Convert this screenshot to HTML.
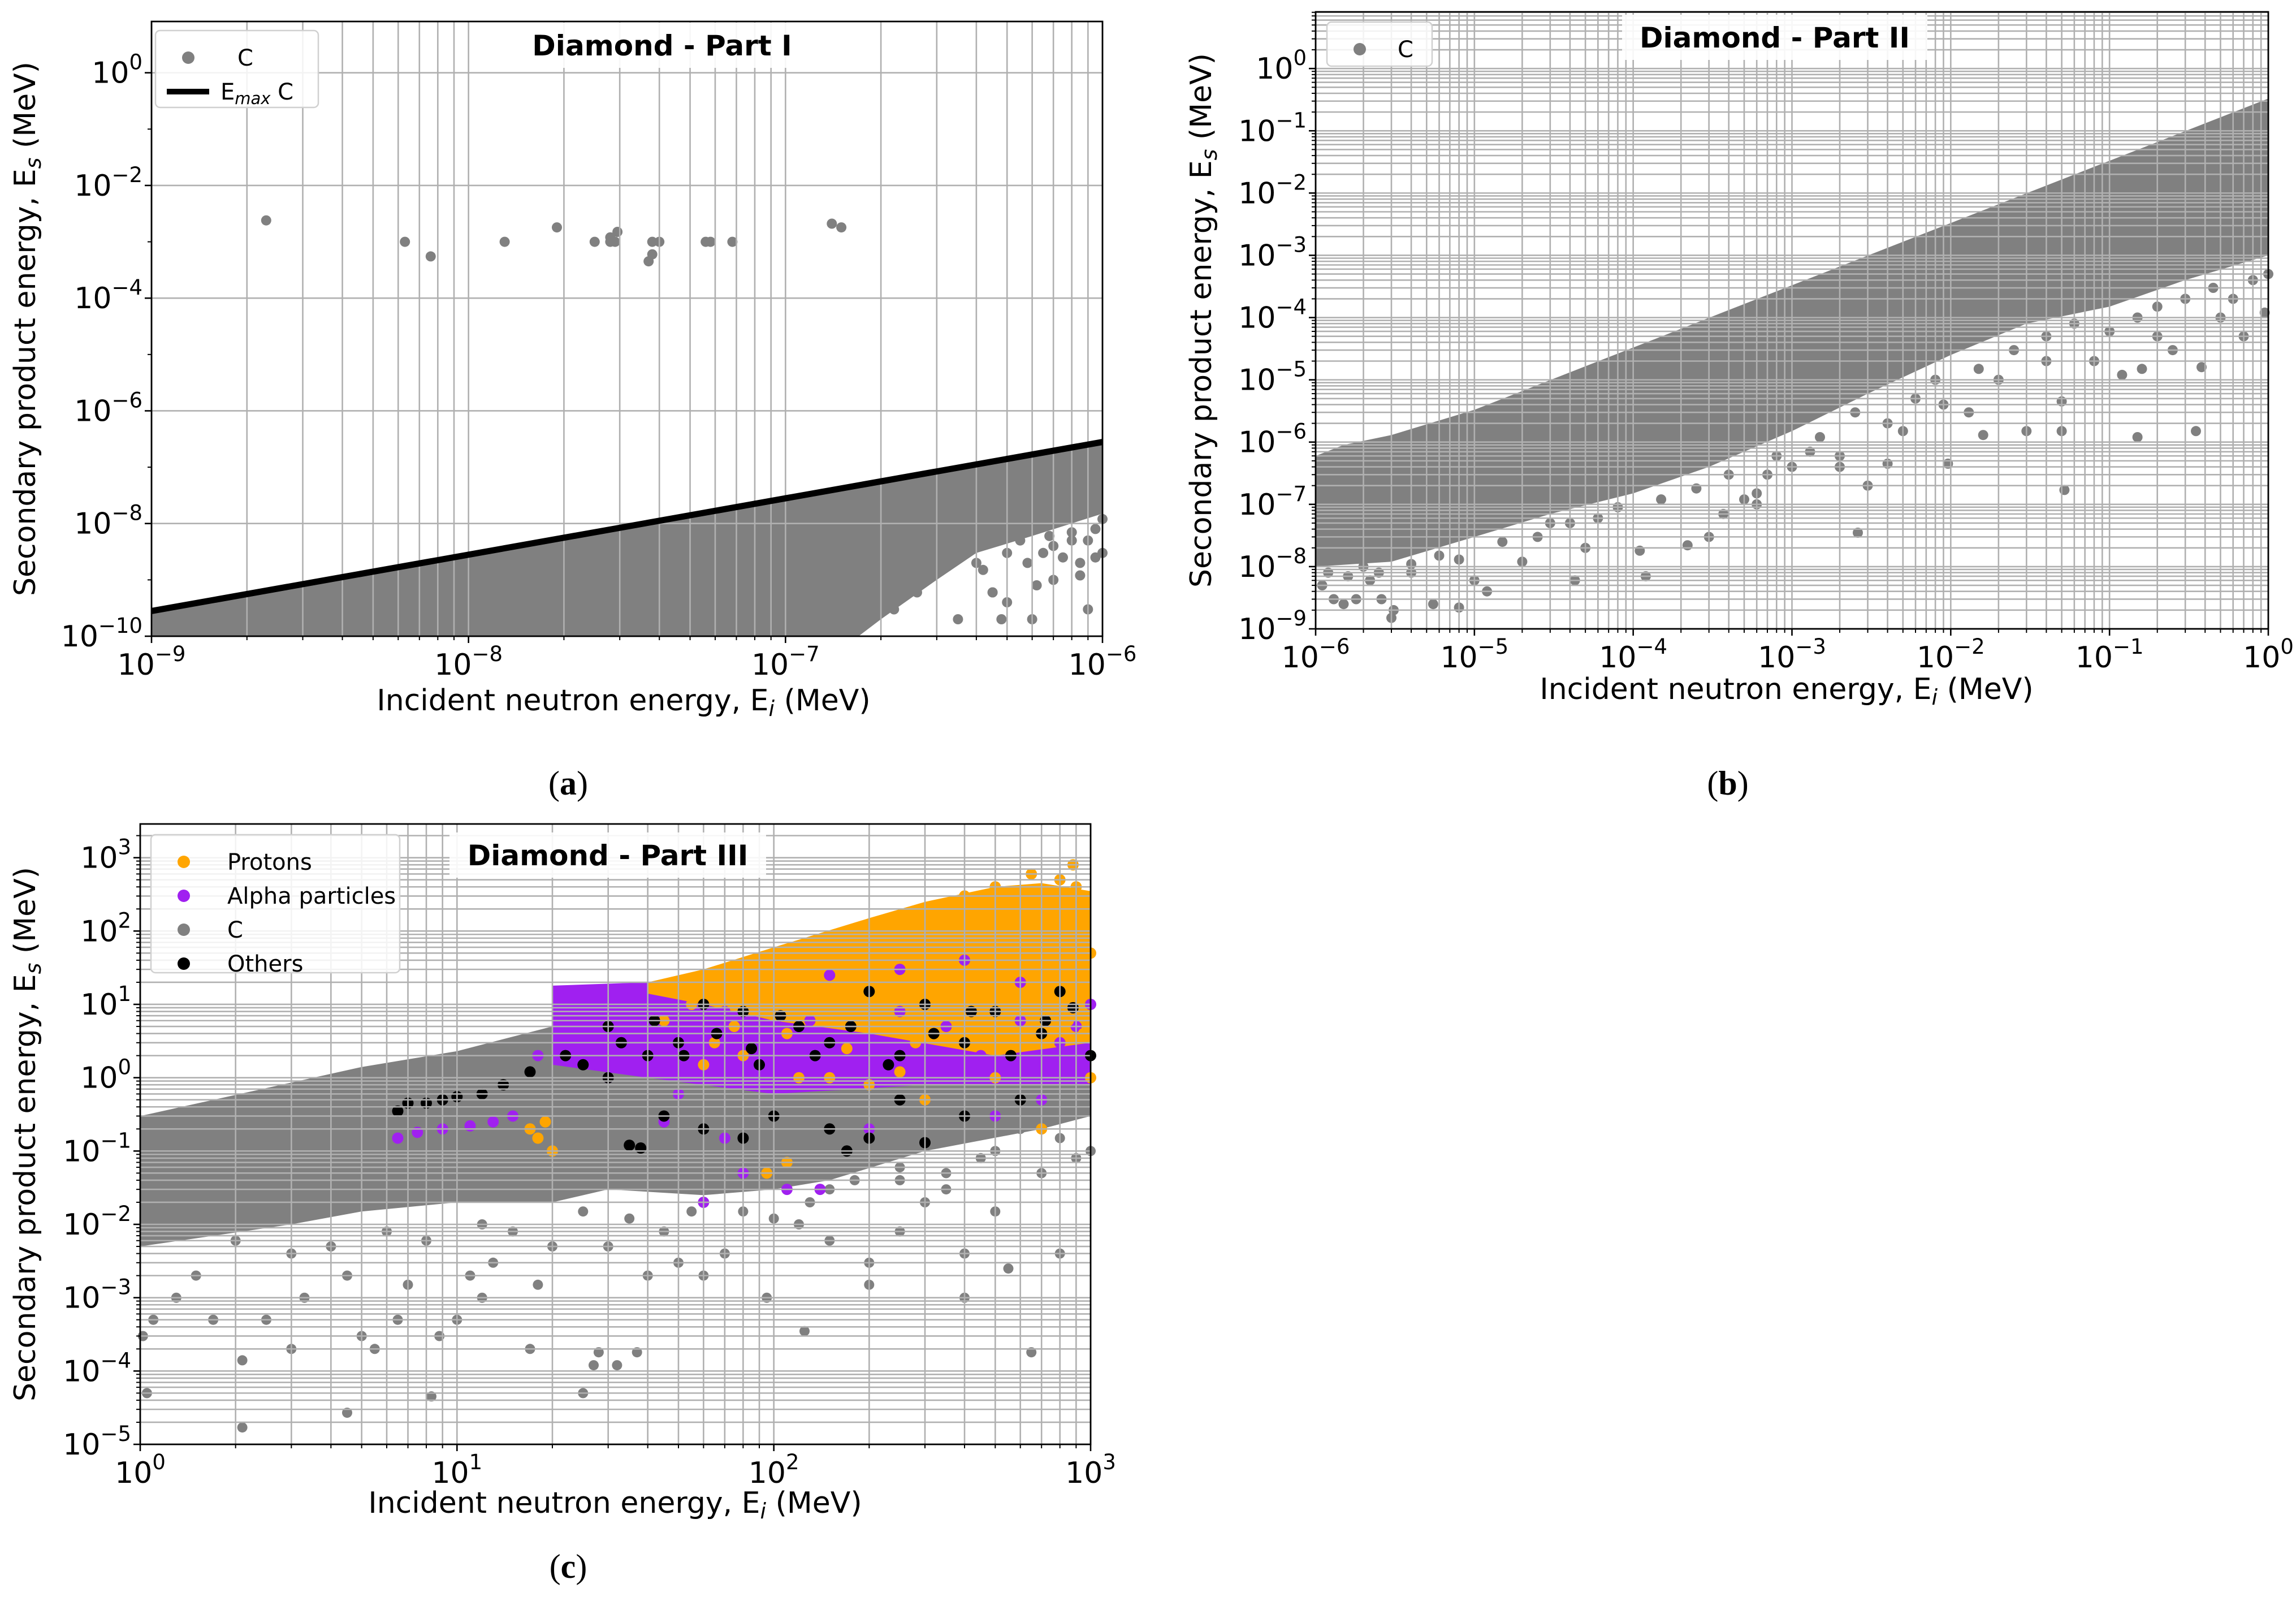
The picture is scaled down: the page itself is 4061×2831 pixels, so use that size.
<!DOCTYPE html>
<html><head><meta charset="utf-8"><style>
html,body{margin:0;padding:0;background:#fff;}
svg{display:block;font-family:"DejaVu Sans","Liberation Sans",sans-serif;}
</style></head><body>
<svg id="fig" width="4061" height="2831" viewBox="0 0 4061 2831" xmlns="http://www.w3.org/2000/svg">
<rect width="4061" height="2831" fill="#fff"/>
<g id="pa"></g>
<g id="pb"></g>
<g id="pc"></g>
<text x="1005" y="1405" font-family="Liberation Serif,serif" font-size="60" text-anchor="middle">(<tspan font-weight="bold">a</tspan>)</text>
<text x="3056" y="1405" font-family="Liberation Serif,serif" font-size="60" text-anchor="middle">(<tspan font-weight="bold">b</tspan>)</text>
<text x="1005" y="2790" font-family="Liberation Serif,serif" font-size="60" text-anchor="middle">(<tspan font-weight="bold">c</tspan>)</text>
</svg>
<script>
// ---------- Panel A data ----------
const aBandX = [1e-9, 1e-6, 1e-6, 6e-7, 4e-7, 3e-7, 2e-7, 1.7e-7, 1e-9];
const aBandY = [2.6e-10, 2.6e-7, 1.5e-8, 6e-9, 3e-9, 1e-9, 2e-10, 1e-10, 1e-10];
const aLineX = [1e-9, 1e-6];
const aLineY = [2.8e-10, 2.8e-7];
const aDotsX = [2.3e-9,6.3e-9,7.6e-9,1.3e-8,1.9e-8,2.5e-8,2.8e-8,2.8e-8,2.9e-8,2.95e-8,3.7e-8,3.8e-8,3.8e-8,4e-8,5.6e-8,5.8e-8,6.8e-8,1.4e-7,1.5e-7,
 3e-7,4e-7,5e-7,7e-7,8e-7,9e-7,6e-7,3.5e-7,2.5e-7,1e-6,9.5e-7,4.5e-7,6.5e-7,8.5e-7,2.2e-7,1.8e-7,
 2.2e-7,2.6e-7,3e-7,3.3e-7,3.8e-7,4.2e-7,4.5e-7,5e-7,5.5e-7,5.8e-7,6.2e-7,7e-7,7.5e-7,8e-7,8.5e-7,9e-7,9.5e-7,1e-6,6.8e-7,4.8e-7];
const aDotsY = [2.4e-3,1e-3,5.5e-4,1e-3,1.8e-3,1e-3,1.2e-3,1e-3,1e-3,1.5e-3,4.5e-4,6e-4,1e-3,1e-3,1e-3,1e-3,1e-3,2.1e-3,1.8e-3,
 5e-9,2e-9,4e-10,1e-9,5e-9,3e-10,2e-10,2e-10,1e-9,3e-9,8e-9,6e-10,3e-9,2e-9,5e-10,3e-10,
 3e-10,6e-10,1.5e-9,2.5e-9,4e-9,1.5e-9,6e-10,3e-9,5e-9,2e-9,8e-10,4e-9,2.5e-9,7e-9,1.2e-9,5e-9,2.5e-9,1.2e-8,6e-9,2e-10];
// ---------- Panel B data ----------
const bBandX = [1e-6,1.5e-6,3e-6,1e-5,1,1,0.3,0.1,3e-2,1e-2,3e-3,1e-3,3e-4,1e-4,3e-5,1e-5,3e-6,1e-6];
const bBandY = [6e-7,9e-7,1.3e-6,3.3e-6,0.33,1e-3,4e-4,1.5e-4,8e-5,2.5e-5,6e-6,1.5e-6,4e-7,1.5e-7,7e-8,3e-8,1.2e-8,1e-8];
const bDotsX = [1.1e-6,1.3e-6,1.5e-6,1.8e-6,2.2e-6,2.6e-6,3e-6,3.1e-6,4e-6,5.5e-6,8e-6,1e-5,1.2e-5,2e-5,3e-5,4.3e-5,1.1e-4,1.2e-4,2.2e-4,3e-4,3.7e-4,5e-4,6e-4,7e-4,1e-3,1.3e-3,2e-3,2.6e-3,3e-3,4e-3,5e-3,9.6e-3,1.3e-2,1.6e-2,2e-2,3e-2,5e-2,5.2e-2,0.05,0.08,0.12,0.15,0.16,0.2,0.25,0.35,0.38,0.5,0.7,0.95,
 1.2e-6,1.6e-6,2e-6,2.5e-6,4e-6,6e-6,8e-6,1.5e-5,2.5e-5,4e-5,6e-5,8e-5,1.5e-4,2.5e-4,4e-4,6e-4,8e-4,1.5e-3,2.5e-3,4e-3,6e-3,8e-3,1.5e-2,2.5e-2,4e-2,6e-2,0.1,0.15,0.2,0.3,0.45,0.6,0.8,1,0.04,0.009,2e-3,5e-5];
const bDotsY = [5e-9,3e-9,2.5e-9,3e-9,6e-9,3e-9,1.5e-9,2e-9,8e-9,2.5e-9,2.2e-9,6e-9,4e-9,1.2e-8,5e-8,6e-9,1.8e-8,7e-9,2.2e-8,3e-8,7e-8,1.2e-7,1.5e-7,3e-7,4e-7,7e-7,6e-7,3.5e-8,2e-7,4.5e-7,1.5e-6,4.5e-7,3e-6,1.3e-6,1e-5,1.5e-6,4.5e-6,1.7e-7,1.5e-6,2e-5,1.2e-5,1.2e-6,1.5e-5,5e-5,3e-5,1.5e-6,1.6e-5,1e-4,5e-5,1.2e-4,
 8e-9,7e-9,1e-8,8e-9,1.1e-8,1.5e-8,1.3e-8,2.5e-8,3e-8,5e-8,6e-8,9e-8,1.2e-7,1.8e-7,3e-7,1e-7,6e-7,1.2e-6,3e-6,2e-6,5e-6,1e-5,1.5e-5,3e-5,5e-5,8e-5,6e-5,1e-4,1.5e-4,2e-4,3e-4,2e-4,4e-4,5e-4,2e-5,4e-6,4e-7,2e-8];
// ---------- Panel C data ----------
const cGrayBandX = [1,5,10,20,1000,1000,700,300,150,100,60,30,20,10,5,3,1];
const cGrayBandY = [0.3,1.4,2.3,5,5,0.3,0.2,0.1,0.04,0.03,0.025,0.03,0.02,0.02,0.015,0.01,0.005];
const cPurpleBandX = [20,20,40,100,300,1000,1000,300,100,40,20];
const cPurpleBandY = [4,18,20,30,40,30,0.8,0.8,0.6,1,1.5];
const cOrangeBandX = [40,60,100,200,300,500,700,1000,1000,500,200,100,60,40];
const cOrangeBandY = [20,30,60,150,250,400,450,350,3,2,4,6,10,14];
const cGrayX = [1.02,1.05,1.1,1.3,1.5,1.7,2.1,2.1,2.5,3,3.3,4.5,4.5,5,5.5,6.5,7,8.3,8.8,10,11,12,13,17,18,20,25,27,28,30,32,37,40,50,60,70,95,125,150,200,200,250,300,400,400,500,550,650,700,800,900,1000,700,600,450,350,250,150,120,
 1.2,2,3,4,6,8,12,15,25,35,45,55,80,100,130,180,250,350,500,800];
const cGrayY = [3e-4,5e-5,5e-4,1e-3,2e-3,5e-4,1.4e-4,1.7e-5,5e-4,2e-4,1e-3,2.7e-5,2e-3,3e-4,2e-4,5e-4,1.5e-3,4.5e-5,3e-4,5e-4,2e-3,1e-3,3e-3,2e-4,1.5e-3,5e-3,5e-5,1.2e-4,1.8e-4,5e-3,1.2e-4,1.8e-4,2e-3,3e-3,2e-3,4e-3,1e-3,3.5e-4,6e-3,3e-3,1.5e-3,8e-3,2e-2,1e-3,4e-3,1.5e-2,2.5e-3,1.8e-4,5e-2,4e-3,8e-2,0.1,0.3,0.2,0.08,0.05,0.04,0.03,0.01,
 8e-3,6e-3,4e-3,5e-3,8e-3,6e-3,1e-2,8e-3,1.5e-2,1.2e-2,8e-3,1.5e-2,1.5e-2,1.2e-2,0.02,0.04,0.06,0.03,0.1,0.15];
const cPurpleX = [6.5,7.5,9,11,13,15,45,70,80,60,110,140,200,300,500,700,900,250,400,150,600,1000,30,18,100,50,
 25,30,35,45,55,70,90,130,180,250,350,450,600,800,950,22,28,40];
const cPurpleY = [0.15,0.18,0.2,0.22,0.25,0.3,0.25,0.15,0.05,0.02,0.03,0.03,0.2,0.5,0.3,0.5,5,30,40,25,20,10,1,2,0.7,0.6,
 8,4,12,5,3,8,4,6,3,8,5,2,6,3,2,12,15,2];
const cOrangeX = [17,18,19,20,95,110,150,200,300,700,800,880,950,650,500,400,900,1000,600,60,80,120,250,500,1000,
 45,55,65,75,90,110,140,170,220,280,380,480,650,850,950,120,180,300,450,700,900,350];
const cOrangeY = [0.2,0.15,0.25,0.1,0.05,0.07,1,0.8,0.5,0.2,500,800,200,600,400,300,100,50,150,1.5,2,1,1.2,1,1,
 6,10,3,5,12,4,8,2.5,5,3,8,4,3,6,4,30,60,100,150,250,400,80];
const cBlackX = [6.5,7,8,9,10,12,14,17,22,25,30,35,38,45,60,80,100,150,170,200,250,300,400,600,30,50,80,120,200,300,500,800,1000,60,150,400,700,40,90,250,
 33,42,52,66,85,105,135,175,230,320,420,560,720,880];
const cBlackY = [0.35,0.45,0.45,0.5,0.55,0.6,0.8,1.2,2,1.5,1,0.12,0.11,0.3,0.2,0.15,0.3,0.2,0.1,0.15,0.5,0.13,0.3,0.5,5,3,8,5,15,10,8,15,2,10,3,3,4,2,1.5,2,
 3,6,2,4,2.5,7,2,5,1.5,4,8,2,6,9];
// ---------- axes tick exponents ----------
const aXTicks = [-9,-8,-7,-6];
const aYTicks = [-10,-8,-6,-4,-2,0];
const bXTicks = [-6,-5,-4,-3,-2,-1,0];
const bYTicks = [-9,-8,-7,-6,-5,-4,-3,-2,-1,0];
const cXTicks = [0,1,2,3];
const cYTicks = [-5,-4,-3,-2,-1,0,1,2,3];

const NS = "http://www.w3.org/2000/svg";
function mk(tag, attrs, parent){ const e=document.createElementNS(NS,tag); for(const k in attrs) e.setAttribute(k,attrs[k]); parent.appendChild(e); return e; }

function makeAxes(cfg){
  const sx = v => cfg.x0 + (Math.log10(v)-cfg.xmin)/(cfg.xmax-cfg.xmin)*(cfg.x1-cfg.x0);
  const sy = v => cfg.y1 - (Math.log10(v)-cfg.ymin)/(cfg.ymax-cfg.ymin)*(cfg.y1-cfg.y0);
  return {sx, sy};
}
function drawPoly(g, ax, xs, ys, color, name){
  const pts = xs.map((x,i)=>ax.sx(x).toFixed(1)+","+ax.sy(ys[i]).toFixed(1)).join(" ");
  const p = mk("polygon",{points:pts, fill:color}, g);
  
  
}
function drawDots(g, ax, xs, ys, color, r, name){
  xs.forEach((x,i)=>{
    const c = mk("circle",{cx:ax.sx(x).toFixed(1), cy:ax.sy(ys[i]).toFixed(1), r:r, fill:color}, g);
    
    
  });
}
function drawGrid(g, cfg, ax, xMinor, yMinor, yStep){
  const gg = mk("g",{stroke:"#b0b0b0","stroke-width":2.6}, g);
  
  
  for(let e=cfg.xmin; e<=Math.ceil(cfg.xmax); e++){
    for(let m=1;m<=9;m++){
      if(m>1 && !xMinor) continue;
      const v=m*Math.pow(10,e); const lv=Math.log10(v);
      if(lv<cfg.xmin-1e-9||lv>cfg.xmax+1e-9) continue;
      const x=ax.sx(v); mk("line",{x1:x,x2:x,y1:cfg.y0,y2:cfg.y1},gg);
      mk("line",{x1:x,x2:x,y1:cfg.y1,y2:cfg.y1+(m==1?12:7),stroke:"#000","stroke-width":m==1?2.6:2},g);
    }
  }
  for(let e=Math.floor(cfg.ymin); e<=Math.ceil(cfg.ymax); e++){
    for(let m=1;m<=9;m++){
      if(m>1 && !yMinor) continue;
      const v=m*Math.pow(10,e); const lv=Math.log10(v);
      if(lv<cfg.ymin-1e-9||lv>cfg.ymax+1e-9) continue;
      const y=ax.sy(v);
      if(m==1 && ((e-cfg.ymin)%yStep)!=0){ mk("line",{x1:cfg.x0,x2:cfg.x0-7,y1:y,y2:y,stroke:"#000","stroke-width":2},g); continue; }
      mk("line",{x1:cfg.x0,x2:cfg.x1,y1:y,y2:y},gg);
      mk("line",{x1:cfg.x0,x2:cfg.x0-(m==1?12:7),y1:y,y2:y,stroke:"#000","stroke-width":m==1?2.6:2},g);
    }
  }
}
function tickLabel(g, x, y, e, anchor, name){
  const t = mk("text",{x:x,y:y,"font-size":52,"text-anchor":anchor,fill:"#000"},g);
  
  
  t.appendChild(document.createTextNode("10"));
  const s = mk("tspan",{"font-size":37,dy:-24},t);
  s.textContent = (e<0?"\u2212":"")+Math.abs(e);
}
function drawTicks(g, cfg, ax, xt, yt){
  xt.forEach(e=>tickLabel(g, ax.sx(Math.pow(10,e)), cfg.y1+68, e, "middle", "x-tick-label"));
  yt.forEach(e=>tickLabel(g, cfg.x0-16, ax.sy(Math.pow(10,e))+18, e, "end", "y-tick-label"));
}
function frame(g,cfg){
  const r = mk("rect",{x:cfg.x0,y:cfg.y0,width:cfg.x1-cfg.x0,height:cfg.y1-cfg.y0,fill:"none",stroke:"#000","stroke-width":2.8},g);
  
  
}
function labels(g,cfg,xlx,xly,ylx){
  const t=mk("text",{x:xlx,y:xly,"font-size":52,"text-anchor":"middle"},g);
  
  
  t.innerHTML='Incident neutron energy, E<tspan font-size="38" dy="10" font-style="italic">i</tspan><tspan dy="-10"> (MeV)</tspan>';
  const cy=(cfg.y0+cfg.y1)/2;
  const u=mk("text",{x:ylx,y:cy,"font-size":52,"text-anchor":"middle",transform:`rotate(-90 ${ylx} ${cy})`},g);
  
  
  u.innerHTML='Secondary product energy, E<tspan font-size="38" dy="10" font-style="italic">s</tspan><tspan dy="-10"> (MeV)</tspan>';
}
function title(g,cx,cy,txt,w){
  const b=mk("rect",{x:cx-w/2,y:cy-40,width:w,height:80,fill:"#fff",opacity:0.9},g);
  
  
  const t=mk("text",{x:cx,y:cy+18,"font-size":50,"font-weight":"bold","text-anchor":"middle"},g);
  
  
  t.textContent=txt;
}
function legend(g,x,y,w,h,items){
  const b=mk("rect",{x:x,y:y,width:w,height:h,rx:8,fill:"#fff","fill-opacity":0.85,stroke:"#d0d0d0","stroke-width":2.5},g);
  
  
  items.forEach((it,i)=>{
    const yy=y+48+i*60;
    if(it.line){ const l=mk("line",{x1:x+20,x2:x+95,y1:yy,y2:yy,stroke:"#000","stroke-width":10},g);   }
    else { const c=mk("circle",{cx:x+58,cy:yy,r:11,fill:it.c},g);   }
    const t=mk("text",{x:x+(it.tx||135),y:yy+14,"font-size":40},g);
    
    
    t.innerHTML=it.label;
  });
}
const GRAY="#808080", ORANGE="#FFA500", PURPLE="#A020F0";
// Panel A
(function(){
  const g=document.getElementById("pa");
  const cfg={x0:268,x1:1950,y0:38,y1:1125,xmin:-9,xmax:-6,ymin:-10,ymax:0.91};
  const ax=makeAxes(cfg);
  drawPoly(g,ax,aBandX,aBandY,GRAY,"c-band");
  drawDots(g,ax,aDotsX,aDotsY,GRAY,9,"c-point");
  drawGrid(g,cfg,ax,true,false,2);
  const l=mk("line",{x1:ax.sx(aLineX[0]),y1:ax.sy(aLineY[0]),x2:ax.sx(aLineX[1]),y2:ax.sy(aLineY[1]),stroke:"#000","stroke-width":11},g);
   
  frame(g,cfg); drawTicks(g,cfg,ax,aXTicks,aYTicks);
  labels(g,cfg,1103,1256,62);
  title(g,1171,80,"Diamond - Part I",520);
  legend(g,275,54,288,136,[{c:GRAY,label:"C",tx:145},{line:true,label:'E<tspan font-size="29" font-style="italic" dy="8">max</tspan><tspan dy="-8"> C</tspan>',tx:115}]);
})();
// Panel B
(function(){
  const g=document.getElementById("pb");
  const cfg={x0:2327,x1:4012,y0:21,y1:1112,xmin:-6,xmax:0,ymin:-9,ymax:0.91};
  const ax=makeAxes(cfg);
  drawPoly(g,ax,bBandX,bBandY,GRAY,"c-band");
  drawDots(g,ax,bDotsX,bDotsY,GRAY,9,"c-point");
  drawGrid(g,cfg,ax,true,true,1);
  frame(g,cfg); drawTicks(g,cfg,ax,bXTicks,bYTicks);
  labels(g,cfg,3160,1236,2142);
  title(g,3139,66,"Diamond - Part II",540);
  legend(g,2347,39,186,78,[{c:GRAY,label:"C",tx:125}]);
})();
// Panel C
(function(){
  const g=document.getElementById("pc");
  const cfg={x0:248,x1:1929,y0:1457,y1:2554,xmin:0,xmax:3,ymin:-5,ymax:3.46};
  const ax=makeAxes(cfg);
  drawPoly(g,ax,cGrayBandX,cGrayBandY,GRAY,"c-band");
  drawPoly(g,ax,cPurpleBandX,cPurpleBandY,PURPLE,"alpha-band");
  drawPoly(g,ax,cOrangeBandX,cOrangeBandY,ORANGE,"proton-band");
  drawDots(g,ax,cGrayX,cGrayY,GRAY,9,"c-point");
  drawDots(g,ax,cPurpleX,cPurpleY,PURPLE,10,"alpha-point");
  drawDots(g,ax,cOrangeX,cOrangeY,ORANGE,10,"proton-point");
  drawDots(g,ax,cBlackX,cBlackY,"#000",10,"others-point");
  drawGrid(g,cfg,ax,true,true,1);
  frame(g,cfg); drawTicks(g,cfg,ax,cXTicks,cYTicks);
  labels(g,cfg,1088,2675,62);
  title(g,1075,1512,"Diamond - Part III",560);
  legend(g,267,1476,440,244,[{c:ORANGE,label:"Protons"},{c:PURPLE,label:"Alpha particles"},{c:GRAY,label:"C"},{c:"#000",label:"Others"}]);
})();
</script>
</body></html>
